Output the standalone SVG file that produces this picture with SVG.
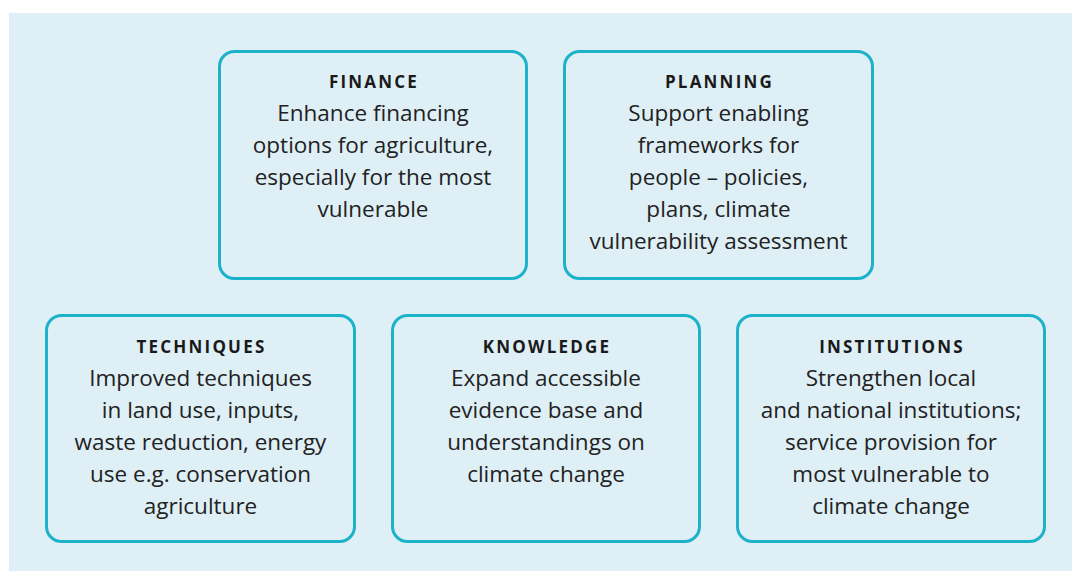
<svg xmlns="http://www.w3.org/2000/svg" width="1072" height="571" viewBox="0 0 1072 571">
<style>
.box{fill:#deeff6;stroke:#1bb2ca;stroke-width:3}
.h{font-family:"Open Sans","Noto Sans",sans-serif;font-weight:bold;font-size:17px;letter-spacing:2.2px;fill:#1a1a1a;text-anchor:middle}
.t{font-family:"Open Sans","Noto Sans",sans-serif;font-size:22.5px;fill:#222;text-anchor:middle}
</style>
<rect x="9" y="13" width="1063" height="558" fill="#deeff6"/>
<g id="finance">
<rect class="box" x="219.5" y="51.5" width="307" height="227" rx="15"/>
<text class="h" x="374" y="88">FINANCE</text>
<text class="t" x="373" y="121">Enhance financing</text>
<text class="t" x="373" y="153">options for agriculture,</text>
<text class="t" x="373" y="185">especially for the most</text>
<text class="t" x="373" y="217">vulnerable</text>
</g>
<g id="planning">
<rect class="box" x="564.5" y="51.5" width="308" height="227" rx="15"/>
<text class="h" x="719.5" y="88">PLANNING</text>
<text class="t" x="718.5" y="121">Support enabling</text>
<text class="t" x="718.5" y="153">frameworks for</text>
<text class="t" x="718.5" y="185">people – policies,</text>
<text class="t" x="718.5" y="217">plans, climate</text>
<text class="t" x="718.5" y="249">vulnerability assessment</text>
</g>
<g id="techniques">
<rect class="box" x="46.5" y="315.5" width="308" height="226" rx="15"/>
<text class="h" x="201.5" y="353">TECHNIQUES</text>
<text class="t" x="200.5" y="386">Improved techniques</text>
<text class="t" x="200.5" y="418">in land use, inputs,</text>
<text class="t" x="200.5" y="450">waste reduction, energy</text>
<text class="t" x="200.5" y="482">use e.g. conservation</text>
<text class="t" x="200.5" y="514">agriculture</text>
</g>
<g id="knowledge">
<rect class="box" x="392.5" y="315.5" width="307" height="226" rx="15"/>
<text class="h" x="547" y="353">KNOWLEDGE</text>
<text class="t" x="546" y="386">Expand accessible</text>
<text class="t" x="546" y="418">evidence base and</text>
<text class="t" x="546" y="450">understandings on</text>
<text class="t" x="546" y="482">climate change</text>
</g>
<g id="institutions">
<rect class="box" x="737.5" y="315.5" width="307" height="226" rx="15"/>
<text class="h" x="892" y="353">INSTITUTIONS</text>
<text class="t" x="891" y="386">Strengthen local</text>
<text class="t" x="891" y="418">and national institutions;</text>
<text class="t" x="891" y="450">service provision for</text>
<text class="t" x="891" y="482">most vulnerable to</text>
<text class="t" x="891" y="514">climate change</text>
</g>
<g id="connectors"></g>
</svg>
